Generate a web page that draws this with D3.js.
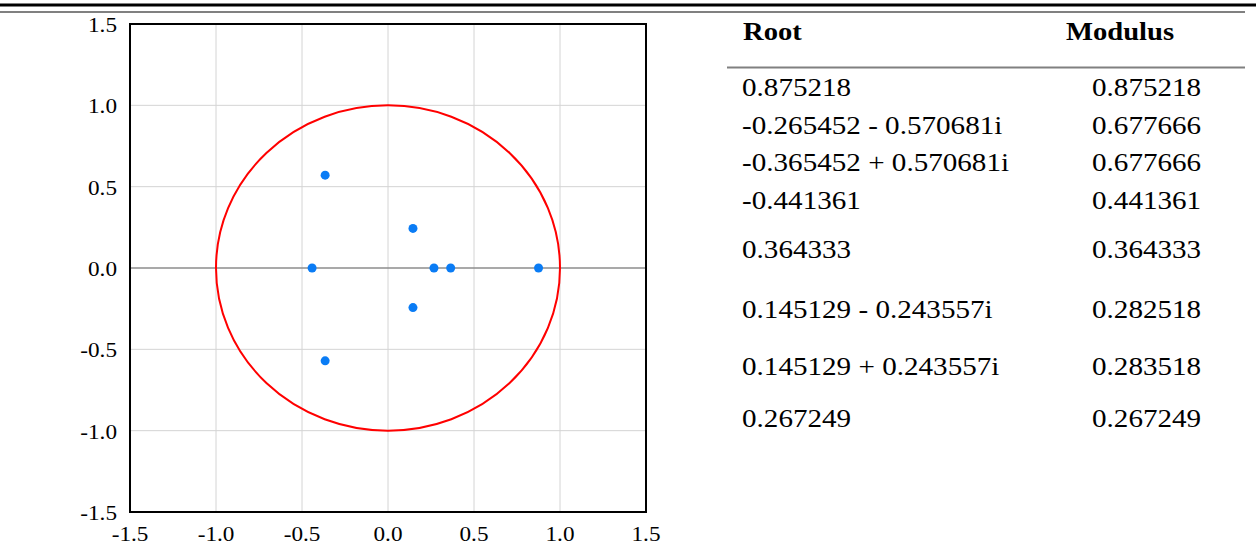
<!DOCTYPE html>
<html>
<head>
<meta charset="utf-8">
<script src="https://cdn.jsdelivr.net/npm/d3@7"></script>
<style>
  body { margin: 0; background: #fff; }
  svg { display: block; }
  text { font-family: "Liberation Serif", "Times New Roman", serif; fill: #000; }
</style>
</head>
<body>
<script>
// inverse roots
var realParts = [0.875218, -0.365452, -0.365452, -0.441361, 0.364333, 0.145129, 0.145129, 0.267249];
var imagParts = [0, -0.570681, 0.570681, 0, 0, -0.243557, 0.243557, 0];

// table text
var rootLabels = ["0.875218", "-0.265452 - 0.570681i", "-0.365452 + 0.570681i", "-0.441361",
                  "0.364333", "0.145129 - 0.243557i", "0.145129 + 0.243557i", "0.267249"];
var modulusLabels = ["0.875218", "0.677666", "0.677666", "0.441361",
                     "0.364333", "0.282518", "0.283518", "0.267249"];
var headers = ["Root", "Modulus"];

var ticks = [-1.5, -1.0, -0.5, 0.0, 0.5, 1.0, 1.5];

function init()
{
    var w = 1256;
    var h = 545;

    var svg = d3.select("body")
                .append("svg")
                .attr("width", w)
                .attr("height", h);

    // the source text is a bit wider than plain Times
    function place(px, py, sx) {
        return "translate(" + px + "," + py + ") scale(" + sx + ",1)";
    }
    var fmt = function(d) { return d3.format(".1f")(d).replace("−", "-"); };

    // top rules
    svg.append("line").attr("x1", 0).attr("x2", w).attr("y1", 5).attr("y2", 5)
       .attr("stroke", "#000").attr("stroke-width", 3);
    svg.append("line").attr("x1", 0).attr("x2", 1245).attr("y1", 12).attr("y2", 12)
       .attr("stroke", "#808080").attr("stroke-width", 2);

    var x = d3.scaleLinear().domain([-1.5, 1.5]).range([130, 646]);
    var y = d3.scaleLinear().domain([-1.5, 1.5]).range([512, 24]);

    var g = svg.append("g");

    // grid
    g.selectAll("line.vg")
     .data(ticks.slice(1, -1))
     .enter()
     .append("line")
     .attr("x1", function(d) { return x(d); })
     .attr("x2", function(d) { return x(d); })
     .attr("y1", y(1.5)).attr("y2", y(-1.5))
     .attr("stroke", "#d4d4d4").attr("stroke-width", 1);

    g.selectAll("line.hg")
     .data(ticks.slice(1, -1))
     .enter()
     .append("line")
     .attr("y1", function(d) { return y(d); })
     .attr("y2", function(d) { return y(d); })
     .attr("x1", x(-1.5)).attr("x2", x(1.5))
     .attr("stroke", function(d) { return d == 0 ? "#8c8c8c" : "#d4d4d4"; })
     .attr("stroke-width", function(d) { return d == 0 ? 1.5 : 1; });

    // unit circle
    g.append("ellipse")
     .attr("cx", x(0)).attr("cy", y(0))
     .attr("rx", x(1) - x(0)).attr("ry", y(0) - y(1))
     .attr("fill", "none").attr("stroke", "#ff0000").attr("stroke-width", 2);

    // roots
    g.selectAll("circle.root")
     .data(realParts)
     .enter()
     .append("circle")
     .attr("cx", function(d) { return x(d); })
     .attr("cy", function(d, i) { return y(imagParts[i]); })
     .attr("r", 4.5)
     .attr("fill", "#0a7cf5");

    // frame
    g.append("rect")
     .attr("x", x(-1.5)).attr("y", y(1.5))
     .attr("width", x(1.5) - x(-1.5)).attr("height", y(-1.5) - y(1.5))
     .attr("fill", "none").attr("stroke", "#000").attr("stroke-width", 2);

    // axis labels
    g.selectAll("text.yl")
     .data(ticks)
     .enter()
     .append("text")
     .attr("transform", function(d) { return place(117, y(d) + 8, 1.16); })
     .attr("text-anchor", "end")
     .style("font-size", "20px")
     .text(fmt);

    g.selectAll("text.xl")
     .data(ticks)
     .enter()
     .append("text")
     .attr("transform", function(d) { return place(x(d), 541, 1.16); })
     .attr("text-anchor", "middle")
     .style("font-size", "20px")
     .text(fmt);

    // table
    var colX = [743, 1066];
    var rowY = [96, 134, 171, 209, 258, 318, 375, 427];

    svg.selectAll("text.hd")
       .data(headers)
       .enter()
       .append("text")
       .attr("transform", function(d, i) { return place(colX[i], 40, 1.1); })
       .style("font-size", "26px")
       .style("font-weight", "bold")
       .text(function(d) { return d; });

    svg.append("line").attr("x1", 727).attr("x2", 1245).attr("y1", 67.5).attr("y2", 67.5)
       .attr("stroke", "#808080").attr("stroke-width", 2);

    svg.selectAll("text.rt")
       .data(rootLabels)
       .enter()
       .append("text")
       .attr("transform", function(d, i) { return place(742, rowY[i], 1.12); })
       .style("font-size", "26px")
       .text(function(d) { return d; });

    svg.selectAll("text.md")
       .data(modulusLabels)
       .enter()
       .append("text")
       .attr("transform", function(d, i) { return place(1092, rowY[i], 1.12); })
       .style("font-size", "26px")
       .text(function(d) { return d; });
}
window.onload = init;
</script>
</body>
</html>
